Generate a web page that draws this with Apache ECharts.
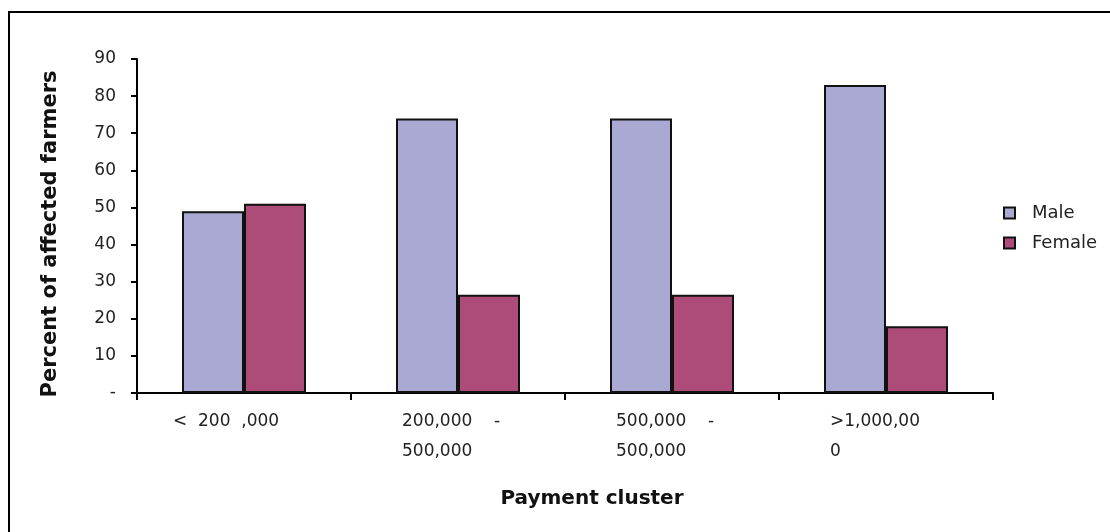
<!DOCTYPE html>
<html>
<head>
<meta charset="utf-8">
<script src="https://cdn.jsdelivr.net/npm/echarts@6/dist/echarts.min.js"></script>
<style>
  html, body { margin: 0; padding: 0; background: #fff; }
  #chart { width: 1110px; height: 532px; }
</style>
</head>
<body>
<div id="chart"></div>
<script>
// Payment clusters (x-axis categories) and their two-line labels
const categories = ['< 200 ,000', '200,000 - 500,000', '500,000 - 500,000', '>1,000,000'];
const categoryLabels = [
  ['<  200  ,000'],
  ['200,000    -', '500,000'],
  ['500,000    -', '500,000'],
  ['>1,000,00', '0']
];
// Share of affected farmers by gender (%)
const maleValues = [49, 74, 74, 83];
const femaleValues = [51, 26.5, 26.5, 18];
const seriesNames = ['Male', 'Female'];
// Y-axis scale
const yMin = 0, yMax = 90, yStep = 10;

const FONT = '"DejaVu Sans", Verdana, sans-serif';
const chart = echarts.init(document.getElementById('chart'));

chart.setOption({
  backgroundColor: '#fff',
  animation: false,
  graphic: [{
    type: 'rect',
    shape: { x: 9, y: 12, width: 1120, height: 600 },
    style: { fill: 'none', stroke: '#000', lineWidth: 2 },
    silent: true
  }],
  legend: {
    orient: 'vertical',
    left: 998,
    top: 199,
    itemWidth: 11,
    itemHeight: 11,
    itemGap: 12,
    icon: 'rect',
    textStyle: { fontFamily: FONT, fontSize: 18, color: '#222', padding: [0, 0, 0, 12] },
    data: seriesNames
  },
  grid: { left: 137, right: 117, top: 59, bottom: 139 },
  xAxis: {
    type: 'category',
    data: categories,
    name: 'Payment cluster',
    nameLocation: 'middle',
    nameGap: 96,
    nameTextStyle: { fontFamily: FONT, fontSize: 20, fontWeight: 'bold', color: '#111', padding: [0, 0, 0, 54] },
    axisLine: { lineStyle: { color: '#000', width: 2 } },
    axisTick: { show: true, length: 7, lineStyle: { color: '#000', width: 2 } },
    axisLabel: {
      margin: 14,
      interval: 0,
      formatter: function (value, idx) {
        const key = idx === 0 ? 'w' : 'n';
        return categoryLabels[idx].map(function (s) { return '{' + key + '|' + s + '}'; }).join('\n');
      },
      rich: {
        n: { fontFamily: FONT, fontSize: 17, color: '#222', width: 112, align: 'left', lineHeight: 30 },
        w: { fontFamily: FONT, fontSize: 17, color: '#222', width: 142, align: 'left', lineHeight: 30 }
      }
    }
  },
  yAxis: {
    type: 'value',
    min: yMin,
    max: yMax,
    interval: yStep,
    name: 'Percent of affected farmers',
    nameLocation: 'middle',
    nameGap: 76,
    nameTextStyle: { fontFamily: FONT, fontSize: 21, fontWeight: 'bold', color: '#111', padding: [0, 16, 0, 0] },
    axisLine: { show: true, lineStyle: { color: '#000', width: 2 } },
    axisTick: { show: true, length: 6, lineStyle: { color: '#000', width: 2 } },
    splitLine: { show: false },
    axisLabel: {
      margin: 21,
      fontFamily: FONT,
      fontSize: 17,
      color: '#222',
      formatter: function (v) { return v === 0 ? '-' : String(v); }
    }
  },
  series: [
    {
      name: seriesNames[0],
      type: 'bar',
      data: maleValues,
      barGap: '0%',
      barWidth: 62,
      itemStyle: { color: '#AAA9D3', borderColor: '#111', borderWidth: 2 }
    },
    {
      name: seriesNames[1],
      type: 'bar',
      data: femaleValues,
      barWidth: 62,
      itemStyle: { color: '#AD4C78', borderColor: '#111', borderWidth: 2 }
    }
  ]
});
</script>
</body>
</html>
